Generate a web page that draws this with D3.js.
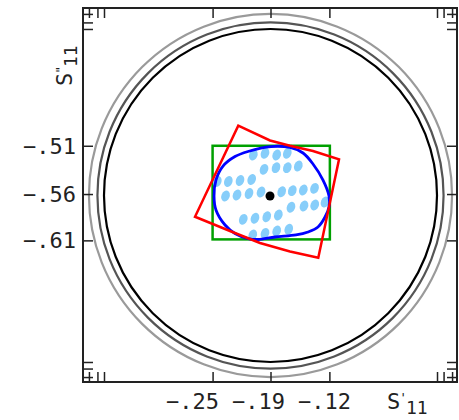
<!DOCTYPE html>
<html>
<head>
<meta charset="utf-8">
<script src="https://cdn.jsdelivr.net/npm/d3@7"></script>
<style>
  body { margin: 0; background: #fff; }
  text { font-family: "DejaVu Sans Mono", monospace; fill: #222; }
</style>
</head>
<body>
<svg id="chart" width="459" height="420"></svg>
<script>
// tick values and labels
const xTicks = [-0.245, -0.185, -0.124];
const xTickLabels = ['−.25', '−.19', '−.12'];
const yTicks = [-0.509, -0.559, -0.607];
const yTickLabels = ['−.51', '−.56', '−.61'];

// reference circles
const center = [-0.185, -0.5605];
const circleRadii = [0.1725, 0.1793, 0.1881];

// green box
const boxX = [-0.245, -0.1235];
const boxY = [-0.509, -0.606];

// red region (corners plus points on the bent edges)
const redX = [-0.2184, -0.1855, -0.1648, -0.141, -0.114, -0.1355, -0.1648, -0.1959, -0.227, -0.2632];
const redY = [-0.4882, -0.5035, -0.5089, -0.5144, -0.523, -0.625, -0.6185, -0.6097, -0.5973, -0.5825];

// blue contour
const blueX = [-0.1845, -0.1648, -0.1513, -0.141, -0.1306, -0.1244, -0.1244, -0.1285, -0.1358, -0.1461, -0.1586,
  -0.1803, -0.198, -0.2083, -0.2218, -0.2321, -0.2415, -0.2435, -0.2415, -0.2342, -0.2218, -0.2083];
const blueY = [-0.5098, -0.5108, -0.5165, -0.5279, -0.5445, -0.561, -0.5724, -0.5828, -0.5932, -0.5983, -0.6014,
  -0.6035, -0.6061, -0.6051, -0.5999, -0.5911, -0.5755, -0.561, -0.5445, -0.53, -0.5201, -0.5149];

// light blue samples
const dotX = [
  -0.2028, -0.1907, -0.1786, -0.1676,
  -0.1917, -0.1793, -0.1676, -0.1562,
  -0.2401, -0.2287, -0.2166, -0.2045,
  -0.2316, -0.2197, -0.2073, -0.1948,
  -0.1734, -0.1624, -0.151, -0.1394,
  -0.1638, -0.1503, -0.1392, -0.1285,
  -0.2132, -0.2011, -0.1889, -0.1769,
  -0.2034, -0.1907, -0.1786, -0.1661
];
const dotY = [
  -0.5186, -0.5168, -0.5186, -0.5168,
  -0.5334, -0.5317, -0.5317, -0.53,
  -0.546, -0.546, -0.545, -0.5439,
  -0.561, -0.56, -0.5584, -0.5569,
  -0.5566, -0.5555, -0.5548, -0.5531,
  -0.5727, -0.5714, -0.5704, -0.5673,
  -0.5852, -0.5841, -0.5825, -0.5807,
  -0.6014, -0.5997, -0.5973, -0.5955
];

// center point
const centerDot = [-0.1855, -0.561];

const circleColors = ['#000', '#555', '#9a9a9a'];

let svg = d3.select('#chart');
let x = d3.scaleLinear().domain([-0.37925, 0.00821]).range([83, 457]);
let y = d3.scaleLinear().domain([-0.75373, -0.36627]).range([382, 8]);

// circles
circleRadii.forEach((r, i) => {
  svg.append('ellipse')
    .attr('cx', x(center[0]))
    .attr('cy', y(center[1]))
    .attr('rx', x(center[0] + r) - x(center[0]))
    .attr('ry', y(center[1]) - y(center[1] + r))
    .attr('fill', 'none')
    .attr('stroke', circleColors[i])
    .attr('stroke-width', 2.2);
});

// green box
svg.append('rect')
  .attr('x', x(boxX[0]))
  .attr('y', y(boxY[0]))
  .attr('width', x(boxX[1]) - x(boxX[0]))
  .attr('height', y(boxY[1]) - y(boxY[0]))
  .attr('fill', 'none')
  .attr('stroke', '#00a000')
  .attr('stroke-width', 2.5);

// dots
dotX.forEach((d, i) => {
  svg.append('ellipse')
    .attr('transform', `translate(${x(d)},${y(dotY[i])}) rotate(22)`)
    .attr('rx', 4.1)
    .attr('ry', 5.6)
    .attr('fill', '#87cefa');
});

// blue contour
let bluePts = blueX.map((d, i) => [x(d), y(blueY[i])]);
svg.append('path')
  .attr('d', d3.line().curve(d3.curveCatmullRomClosed)(bluePts))
  .attr('fill', 'none')
  .attr('stroke', '#0000ff')
  .attr('stroke-width', 2.8);

// red region
let redPts = redX.map((d, i) => [x(d), y(redY[i])]);
svg.append('path')
  .attr('d', d3.line().curve(d3.curveLinearClosed)(redPts))
  .attr('fill', 'none')
  .attr('stroke', '#ff0000')
  .attr('stroke-width', 2.5)
  .attr('stroke-linejoin', 'miter');

svg.append('circle')
  .attr('cx', x(centerDot[0]))
  .attr('cy', y(centerDot[1]))
  .attr('r', 4.5)
  .attr('fill', '#000');

// inward ticks on all four sides, including the circle extents
let xAll = xTicks.concat(circleRadii.flatMap((r) => [center[0] - r, center[0] + r]));
let yAll = yTicks.concat(circleRadii.flatMap((r) => [center[1] - r, center[1] + r]));

let axes = [
  [d3.axisBottom(x).tickValues(xAll), `translate(0,382)`],
  [d3.axisTop(x).tickValues(xAll), `translate(0,8)`],
  [d3.axisLeft(y).tickValues(yAll), `translate(83,0)`],
  [d3.axisRight(y).tickValues(yAll), `translate(457,0)`]
];
axes.forEach(([ax, tr]) => {
  let g = svg.append('g')
    .attr('transform', tr)
    .call(ax.tickSize(-10).tickFormat(''));
  g.select('.domain').remove();
  g.selectAll('line').attr('stroke', '#222').attr('stroke-width', 1.5);
});

svg.append('rect')
  .attr('x', 83).attr('y', 8)
  .attr('width', 374).attr('height', 374)
  .attr('fill', 'none')
  .attr('stroke', '#222')
  .attr('stroke-width', 2);

// tick labels
let xLabelShift = [-20, -12, -5];
xTicks.forEach((t, i) => {
  svg.append('text')
    .attr('x', x(t) + xLabelShift[i])
    .attr('y', 409)
    .attr('text-anchor', 'middle')
    .attr('font-size', 22)
    .text(xTickLabels[i]);
});
yTicks.forEach((t, i) => {
  svg.append('text')
    .attr('x', 76)
    .attr('y', y(t) + 8)
    .attr('text-anchor', 'end')
    .attr('font-size', 22)
    .text(yTickLabels[i]);
});

// axis titles: S, a small prime mark, then the subscript 11
function title(g, mark) {
  let t = g.append('text').attr('x', 0).attr('y', 0).attr('font-size', 22).text('S');
  t.append('tspan').attr('dx', -1).attr('dy', -7).attr('font-size', 13).text(mark);
  t.append('tspan').attr('x', 19).attr('dy', 12).attr('font-size', 18).text('11');
}
title(svg.append('g').attr('transform', 'translate(387,409)'), "'");
title(svg.append('g').attr('transform', 'translate(72,86) rotate(-90)'), '"');
</script>
</body>
</html>
